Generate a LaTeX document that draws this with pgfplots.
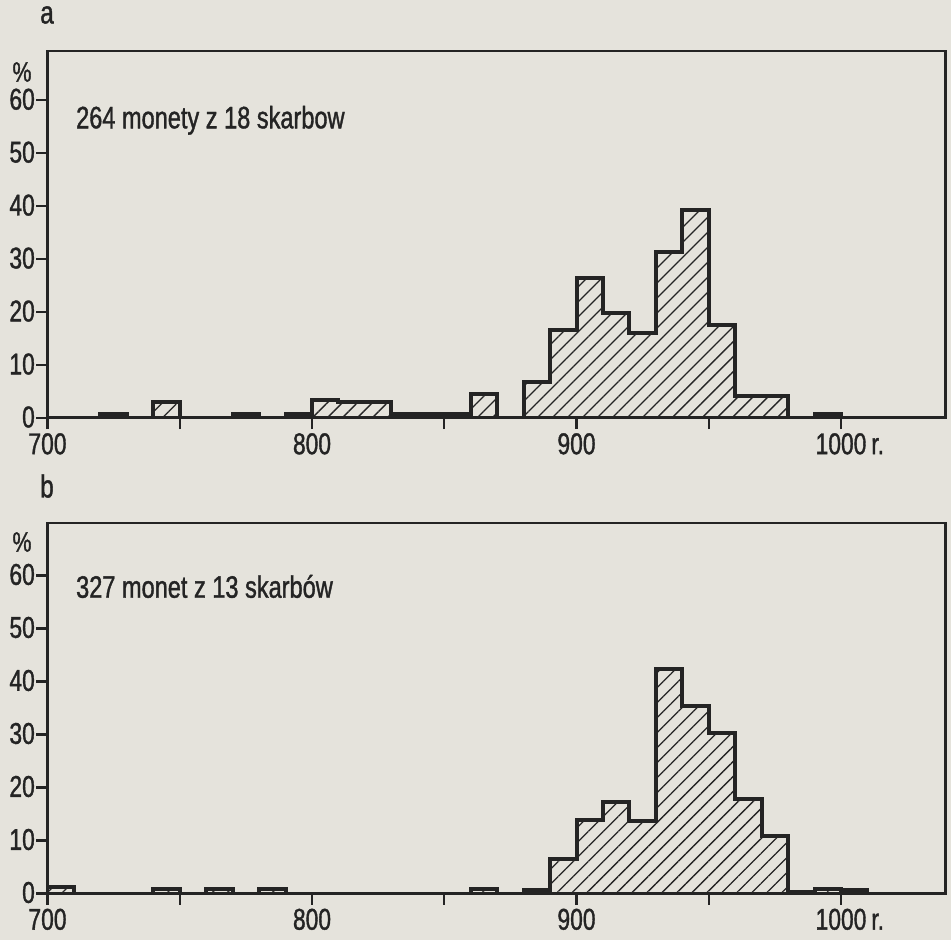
\documentclass[border=0pt]{standalone}
\usepackage{fontspec}
\setmainfont{Liberation Sans}[FakeStretch=0.76, FakeBold=1.2]
\usepackage{pgfplots}
\pgfplotsset{compat=1.18}
\usetikzlibrary{patterns.meta}
\definecolor{paper}{RGB}{229,227,220}
\definecolor{ink}{RGB}{36,36,36}

\pgfplotsset{
  panel/.style={
    anchor=south west, scale only axis, width=898pt,
    xmin=700, xmax=1039.5, ymin=0,
    axis line style={line width=2.8pt, ink},
    xtick={700,750,...,1000},
    xticklabels={\mbox{700},,\mbox{800},,\mbox{900},,\mbox{1000\rlap{\,r.}}},
    ytick={0,10,...,60},
    xtick pos=lower, ytick pos=left,
    tick align=outside, major tick length=11pt,
    every tick/.style={line width=2.2pt, ink},
    tick label style={font=\fontsize{30}{32}\selectfont, text=ink},
    xticklabel style={inner sep=1pt, yshift=-3pt},
    yticklabel style={inner sep=1.5pt, yshift=1pt},
    /pgf/number format/assume math mode=true,
    clip mode=individual,
  },
  hist/.style={const plot, draw=ink, line width=4pt, line join=miter,
    pattern={Lines[angle=45,distance=10.6pt,line width=1.3pt]}, pattern color=ink},
}

\begin{document}
\begin{tikzpicture}
\path[use as bounding box, fill=paper] (0,0) rectangle (951pt,-940pt);

% a: 264 monety z 18 skarbow
\begin{axis}[panel, at={(47.5pt,-418pt)}, height=367pt, ymax=69.3]
\addplot[hist] coordinates {
(700,0) (720,0.8) (730,0) (740,3.0) (750,0) (770,0.8) (780,0) (790,0.8)
(800,3.4) (810,3.0) (820,3.0) (830,0.8) (860,4.6) (870,0) (880,6.8)
(890,16.7) (900,26.4) (910,19.8) (920,16.0) (930,31.3) (940,39.3)
(950,17.6) (960,4.1) (980,0) (990,0.8) (1000,0) (1039.5,0)} \closedcycle;
\node[anchor=base west, font=\fontsize{31}{33}\selectfont, text=ink]
  at (axis cs:709.5,54.7) {264 monety z 18 skarbow};
\end{axis}

% b: 327 monet z 13 skarbow
\begin{axis}[panel, at={(47.5pt,-893.5pt)}, height=370.5pt, ymax=69.9]
\addplot[hist] coordinates {
(700,1.2) (710,0) (740,0.9) (750,0) (760,0.9) (770,0) (780,0.9) (790,0)
(860,0.9) (870,0) (880,0.6) (890,6.6) (900,13.8) (910,17.2) (920,13.6)
(930,42.4) (940,35.3) (950,30.3) (960,17.9) (970,10.8) (980,0.3)
(990,0.9) (1000,0.6) (1010,0) (1039.5,0)} \closedcycle;
\node[anchor=base west, font=\fontsize{31}{33}\selectfont, text=ink]
  at (axis cs:709.5,55.8) {327 monet z 13 skarbów};
\end{axis}

\node[font=\fontsize{28}{30}\selectfont, text=ink] at (22pt,-72pt) {\%};
\node[font=\fontsize{28}{30}\selectfont, text=ink] at (22pt,-542pt) {\%};
\node[font=\fontsize{32}{34}\selectfont, text=ink] at (47pt,-15pt) {a};
\node[font=\fontsize{32}{34}\selectfont, text=ink] at (47pt,-486pt) {b};
\end{tikzpicture}
\end{document}
